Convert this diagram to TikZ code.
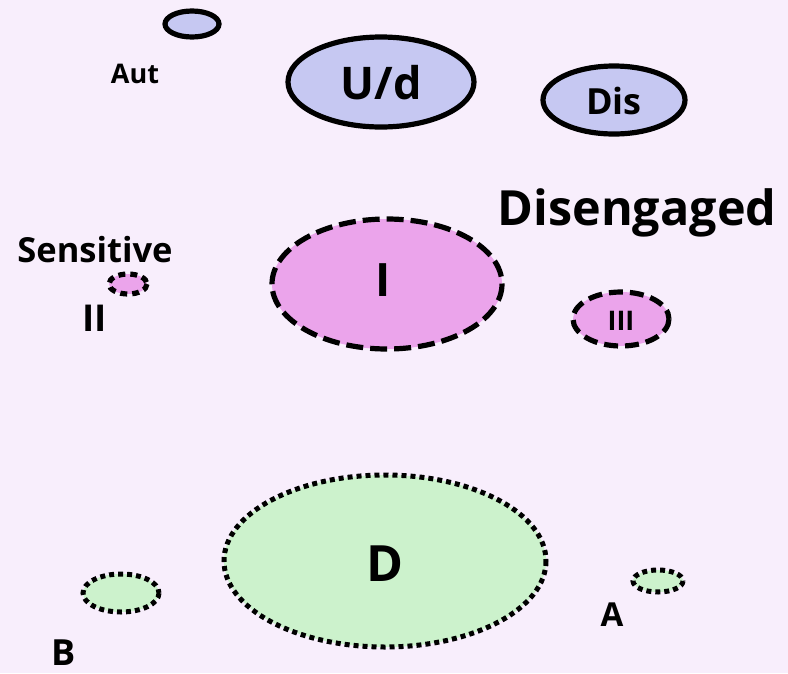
\documentclass[tikz,border=0pt]{standalone}
\usepackage{fontspec}
\setmainfont{Open Sans}
\begin{document}
\begin{tikzpicture}[x=1pt,y=-1pt,
  lbl/.style={font=\bfseries, inner sep=0pt, text=black},
  solidell/.style={draw=black, line width=5.2pt, fill=bluefill},
  dashell/.style={draw=black, line width=5.2pt, fill=pinkfill, dash pattern=on 17pt off 7pt},
  dotell/.style={draw=black, line width=5pt, fill=greenfill, dash pattern=on 5pt off 4pt}]
\definecolor{bg}{HTML}{F8EEFC}
\definecolor{bluefill}{HTML}{C6C8F2}
\definecolor{pinkfill}{HTML}{EBA4EB}
\definecolor{greenfill}{HTML}{CCF2CC}
\fill[bg] (0,0) rectangle (788,673);
\useasboundingbox (0,0) rectangle (788,673);
% top solid
\draw[solidell] (192,24) ellipse [x radius=27, y radius=13];
\draw[solidell] (381,82) ellipse [x radius=93, y radius=45];
\draw[solidell] (614,100) ellipse [x radius=71, y radius=34];
\node[lbl, font=\fontsize{27}{27}\bfseries] (aut) at (135,74) {Aut};
\node[lbl, font=\fontsize{45}{45}\bfseries] (ud) at (381,83) {U/d};
\node[lbl, font=\fontsize{36}{36}\bfseries] (dis) at (614,101) {Dis};
% middle dashed
\node[lbl, font=\fontsize{48.5}{48.5}\bfseries] (dise) at (637,213) {Disengaged};
\draw[dashell] (387,284) ellipse [x radius=115, y radius=65];
\draw[dashell, dash pattern=on 7pt off 5pt] (128,284) ellipse [x radius=19, y radius=10];
\draw[dashell, dash pattern=on 14pt off 7pt] (621,319) ellipse [x radius=48, y radius=27];
\node[lbl, font=\fontsize{34.5}{34.5}\bfseries] (sens) at (95,250) {Sensitive};
\node[lbl, font=\fontsize{37}{37}\bfseries] (ii) at (95,318) {II};
\node[lbl, font=\fontsize{46}{46}\bfseries] (i) at (383,280) {I};
\node[lbl, font=\fontsize{27}{27}\bfseries] (iii) at (621,321) {III};
% bottom dotted
\draw[dotell] (385,561) ellipse [x radius=161, y radius=86];
\draw[dotell] (121,593) ellipse [x radius=38, y radius=19];
\draw[dotell] (658,581) ellipse [x radius=25, y radius=11];
\node[lbl, font=\fontsize{50}{50}\bfseries] (d) at (385,564) {D};
\node[lbl, font=\fontsize{33}{33}\bfseries] (a) at (612,615) {A};
\node[lbl, font=\fontsize{36}{36}\bfseries, anchor=south] (b) at (64,666) {B};
\end{tikzpicture}
\end{document}
